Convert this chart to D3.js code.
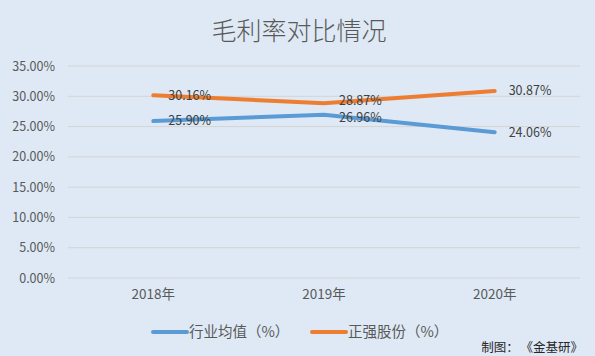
<!DOCTYPE html>
<html lang="zh-CN"><head><meta charset="utf-8">
<script src="https://cdn.jsdelivr.net/npm/d3@7"></script>
<style>html,body{margin:0;padding:0;background:#dee9f5;}svg{display:block;}</style>
</head><body>
<script>
const categories = ["2018年", "2019年", "2020年"];
const industryAvg = [25.90, 26.96, 24.06];
const zhengqiang = [30.16, 28.87, 30.87];
const seriesNames = ["行业均值（%）", "正强股份（%）"];
const yTicks = [0, 5, 10, 15, 20, 25, 30, 35];
const colors = ["#5b9bd5", "#ed7d31"];

const W = 595, H = 356;
const font = "'Noto Sans CJK SC', 'Noto Sans', sans-serif";
const svg = d3.select("body").append("svg").attr("width", W).attr("height", H);
svg.append("rect").attr("width", W).attr("height", H).attr("fill", "#dee9f5");

const x = d3.scaleBand().domain(categories).range([68, 580]);
const y = d3.scaleLinear().domain([0, 35]).range([278, 66]);

svg.append("text").attr("x", 299).attr("y", 40).attr("text-anchor", "middle")
  .attr("font-family", font).attr("font-size", 25).attr("font-weight", 300).attr("fill", "#595959").text("毛利率对比情况");

// grid
svg.append("g").selectAll("line").data(yTicks).join("line")
  .attr("x1", 68).attr("x2", 580).attr("y1", d => y(d)).attr("y2", d => y(d))
  .attr("stroke", "#d4d4d4").attr("stroke-width", 1);

// y axis labels
const yAxis = d3.axisLeft(y).tickValues(yTicks).tickFormat(d => d.toFixed(2) + "%").tickSize(0).tickPadding(0);
const ya = svg.append("g").attr("transform", "translate(55,0)").call(yAxis);
ya.select(".domain").remove();
ya.selectAll("text").attr("font-family", font).attr("font-size", 12.5).attr("fill", "#595959");

// x axis labels
const xAxis = d3.axisBottom(x).tickSize(0).tickPadding(0);
const xa = svg.append("g").attr("transform", "translate(0,289)").call(xAxis);
xa.select(".domain").remove();
xa.selectAll("text").attr("font-family", font).attr("font-size", 13.5).attr("fill", "#595959");

const series = [industryAvg, zhengqiang];
const line = d3.line().x((d, i) => x(categories[i]) + x.bandwidth() / 2).y(d => y(d));
series.forEach((s, k) => {
  svg.append("path").datum(s).attr("d", line).attr("fill", "none")
    .attr("stroke", colors[k]).attr("stroke-width", 4).attr("stroke-linecap", "round");
});
series.forEach((s, k) => {
  svg.append("g").selectAll("text").data(s).join("text")
    .attr("x", (d, i) => x(categories[i]) + x.bandwidth() / 2 + (i === 2 ? 14 : 15))
    .attr("y", (d, i) => y(d) + (i === 1 ? (k === 1 ? -3 : 3) : 0)).attr("dy", "0.35em")
    .attr("font-family", font).attr("font-size", 12.5).attr("fill", "#404040")
    .text(d => d.toFixed(2) + "%");
});

// legend
const legX = [153, 312];
seriesNames.forEach((n, k) => {
  svg.append("line").attr("x1", legX[k]).attr("x2", legX[k] + 34).attr("y1", 332).attr("y2", 332)
    .attr("stroke", colors[k]).attr("stroke-width", 4).attr("stroke-linecap", "round");
  svg.append("text").attr("x", legX[k] + 36).attr("y", 332).attr("dy", "0.35em")
    .attr("font-family", font).attr("font-size", 14.5).attr("fill", "#595959").text(n);
});

const credit = svg.append("text").attr("x", 583).attr("y", 348).attr("dy", "0.35em").attr("text-anchor", "end")
  .attr("font-family", font).attr("font-size", 12.5).attr("fill", "#262626");
credit.append("tspan").text("制图：");
credit.append("tspan").attr("dx", 8).text("《金基研》");
</script>
</body></html>
